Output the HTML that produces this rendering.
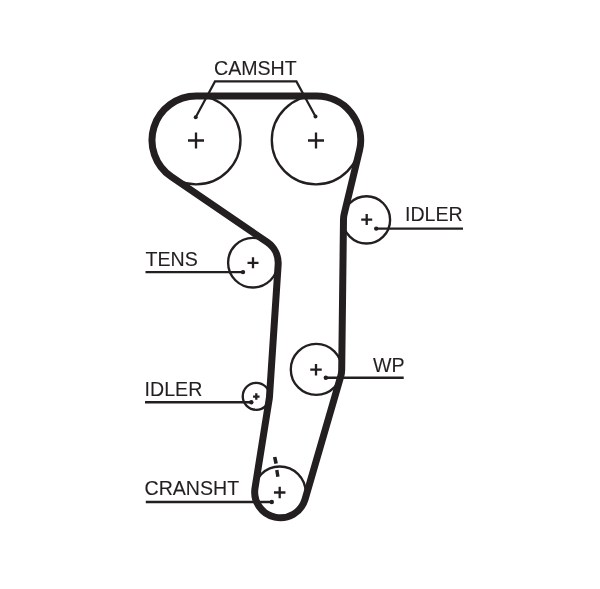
<!DOCTYPE html><html><head><meta charset="utf-8"><style>html,body{margin:0;padding:0;background:#fff;}svg{display:block;will-change:transform;}text{font-family:"Liberation Sans",sans-serif;}</style></head><body>
<svg width="600" height="589" viewBox="0 0 600 589">
<rect width="600" height="589" fill="#fff"/>
<circle cx="196.2" cy="140.1" r="44.3" fill="none" stroke="#231f20" stroke-width="2.35"/>
<circle cx="316" cy="140.1" r="44.2" fill="none" stroke="#231f20" stroke-width="2.35"/>
<circle cx="366.5" cy="219.9" r="23.6" fill="none" stroke="#231f20" stroke-width="2.35"/>
<circle cx="316.3" cy="369.4" r="25.5" fill="none" stroke="#231f20" stroke-width="2.35"/>
<circle cx="279.7" cy="492.5" r="26" fill="none" stroke="#231f20" stroke-width="2.35"/>
<circle cx="256.25" cy="396.3" r="13.5" fill="none" stroke="#231f20" stroke-width="2.35"/>
<circle cx="252.9" cy="262.7" r="24.8" fill="none" stroke="#231f20" stroke-width="2.35"/>
<path d="M188.0,140.5H204.0M196,132.5V148.5" stroke="#231f20" stroke-width="2.3" fill="none"/>
<path d="M308.0,140.5H324.0M316,132.5V148.5" stroke="#231f20" stroke-width="2.3" fill="none"/>
<path d="M361.2,219.6H372.2M366.7,214.1V225.1" stroke="#231f20" stroke-width="2.3" fill="none"/>
<path d="M247.5,262.8H258.5M253,257.3V268.3" stroke="#231f20" stroke-width="2.3" fill="none"/>
<path d="M310.25,369.7H321.75M316,363.95V375.45" stroke="#231f20" stroke-width="2.3" fill="none"/>
<path d="M253.05,396.6H259.55M256.3,393.35V399.85" stroke="#231f20" stroke-width="2.3" fill="none"/>
<path d="M273.95,492.5H285.45M279.7,486.75V498.25" stroke="#231f20" stroke-width="2.3" fill="none"/>
<path d="M171.27,176.70 A44.20,44.20 0 0 1 196.20,96.00 L316.50,96.00 A44.20,44.20 0 0 1 359.47,150.55 L344.14,214.22 A23.00,23.00 0 0 0 343.50,219.32 L341.70,369.70 A25.40,25.40 0 0 1 340.69,376.48 L305.08,499.26 A25.70,25.70 0 0 1 255.02,488.06 L269.34,398.08 A13.25,13.25 0 0 0 269.47,396.87 L278.15,264.76 A25.30,25.30 0 0 0 267.17,242.21 L171.27,176.70 Z" fill="none" stroke="#231f20" stroke-width="7" stroke-linejoin="round"/>
<path d="M195.7,117.2 L215,81.4 L296.4,81.4 L315.5,116.6" fill="none" stroke="#231f20" stroke-width="2.2" stroke-linejoin="miter"/>
<path d="M376.2,228.6 L463,228.6" fill="none" stroke="#231f20" stroke-width="2.4" stroke-linejoin="miter"/>
<path d="M145.5,272.1 L243,272.1" fill="none" stroke="#231f20" stroke-width="2.4" stroke-linejoin="miter"/>
<path d="M325.8,377.8 L403.7,377.8" fill="none" stroke="#231f20" stroke-width="2.4" stroke-linejoin="miter"/>
<path d="M145,402.2 L251.3,402.2" fill="none" stroke="#231f20" stroke-width="2.4" stroke-linejoin="miter"/>
<path d="M145.8,502 L271.8,502" fill="none" stroke="#231f20" stroke-width="2.4" stroke-linejoin="miter"/>
<circle cx="195.7" cy="117.2" r="2" fill="#231f20"/>
<circle cx="315.5" cy="116.5" r="2" fill="#231f20"/>
<circle cx="376.2" cy="228.6" r="2.2" fill="#231f20"/>
<circle cx="243" cy="272.1" r="2.2" fill="#231f20"/>
<circle cx="325.8" cy="377.8" r="2.2" fill="#231f20"/>
<circle cx="251.3" cy="402.2" r="2.2" fill="#231f20"/>
<circle cx="271.8" cy="502" r="2.2" fill="#231f20"/>
<path d="M274.7,457 L276.1,463.6" stroke="#231f20" stroke-width="3.6" fill="none"/>
<path d="M276.8,470 L277.9,476.8" stroke="#231f20" stroke-width="3.4" fill="none"/>
<text transform="translate(214,75) scale(1,1.05)" font-size="19.6" fill="#231f20" stroke="#231f20" stroke-width="0.1">CAMSHT</text>
<text transform="translate(405,221.2) scale(1,1.05)" font-size="19.6" fill="#231f20" stroke="#231f20" stroke-width="0.1">IDLER</text>
<text transform="translate(145.5,265.5) scale(1,1.05)" font-size="19.6" fill="#231f20" stroke="#231f20" stroke-width="0.1">TENS</text>
<text transform="translate(373,371.7) scale(1,1.05)" font-size="19.6" fill="#231f20" stroke="#231f20" stroke-width="0.1">WP</text>
<text transform="translate(144.6,395.7) scale(1,1.05)" font-size="19.6" fill="#231f20" stroke="#231f20" stroke-width="0.1">IDLER</text>
<text transform="translate(144.5,495) scale(1,1.05)" font-size="19.6" fill="#231f20" stroke="#231f20" stroke-width="0.1">CRANSHT</text>
</svg></body></html>
